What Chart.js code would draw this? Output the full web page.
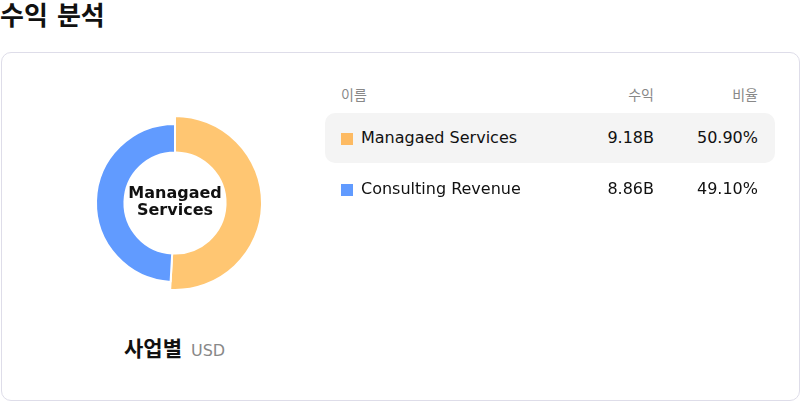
<!DOCTYPE html>
<html>
<head>
<meta charset="utf-8">
<script src="https://cdn.jsdelivr.net/npm/chart.js@4"></script>
<style>
  body { margin: 0; width: 800px; height: 402px; background: #fff; font-family: "DejaVu Sans", "Noto Sans CJK KR", sans-serif; color: #111; position: relative; overflow: hidden; }
  h1 { position: absolute; left: 0; top: 1px; margin: 0; font-size: 26px; line-height: 30px; font-weight: bold; }
  .card { position: absolute; left: 1px; top: 52px; width: 797px; height: 347px; border: 1px solid #dedde9; border-radius: 10px; }
  #wrap { position: absolute; left: 80px; top: 108px; width: 190px; height: 190px; }
  .center { position: absolute; left: 75px; top: 184px; width: 200px; text-align: center; font-weight: bold; font-size: 16px; line-height: 17px; }
  .caption { position: absolute; left: 124px; top: 337px; font-size: 21px; line-height: 24px; font-weight: bold; }
  .caption span { font-size: 16px; font-weight: normal; color: #888; margin-left: 9px; }
  .hdr { position: absolute; top: 85px; font-size: 14px; line-height: 20px; color: #888; }
  .rowbg { position: absolute; left: 325px; top: 113px; width: 450px; height: 50px; background: #f4f4f4; border-radius: 10px; }
  .cell { position: absolute; font-size: 16px; line-height: 20px; }
  .sq { position: absolute; width: 12px; height: 12px; }
</style>
</head>
<body>
<h1>수익 분석</h1>
<div class="card"></div>
<div id="wrap"><canvas id="pie"></canvas></div>
<div class="center">Managaed<br>Services</div>
<div class="caption">사업별<span>USD</span></div>
<div id="table"></div>
<script>
const names = ["Managaed Services", "Consulting Revenue"];
const revenue = [9.18, 8.86];
const shares = [50.90, 49.10];
const colors = ["#FFC672", "#619BFF"];
const legendColors = ["#FDBA62", "#619BFF"];
const activeIndex = 0;

// the selected slice is drawn a bit bigger
const growActive = {
    id: "growActive",
    afterDatasetsUpdate(chart) {
        const arc = chart.getDatasetMeta(0).data[activeIndex];
        arc.outerRadius = arc.outerRadius + 8;
    }
};

new Chart(document.getElementById("pie"), {
    type: "doughnut",
    data: {
        labels: names,
        datasets: [{
            data: revenue,
            backgroundColor: colors,
            borderColor: "#fff",
            borderWidth: 2
        }]
    },
    options: {
        responsive: true,
        maintainAspectRatio: false,
        animation: false,
        events: [],
        cutout: "64%",
        layout: { padding: 15 },
        plugins: { legend: { display: false }, tooltip: { enabled: false } }
    },
    plugins: [growActive]
});

let html = `
<div class="hdr" style="left:341px">이름</div>
<div class="hdr" style="right:146px">수익</div>
<div class="hdr" style="right:42px">비율</div>
<div class="rowbg"></div>`;
names.forEach((n, i) => {
    const y = 138 + i * 51;
    html += `
<div class="sq" style="left:341px; top:${y - 5}px; background:${legendColors[i]}"></div>
<div class="cell" style="left:361px; top:${y - 10}px">${n}</div>
<div class="cell" style="right:146px; top:${y - 10}px">${revenue[i].toFixed(2)}B</div>
<div class="cell" style="right:42px; top:${y - 10}px">${shares[i].toFixed(2)}%</div>`;
});
document.getElementById("table").innerHTML = html;
</script>
</body>
</html>
